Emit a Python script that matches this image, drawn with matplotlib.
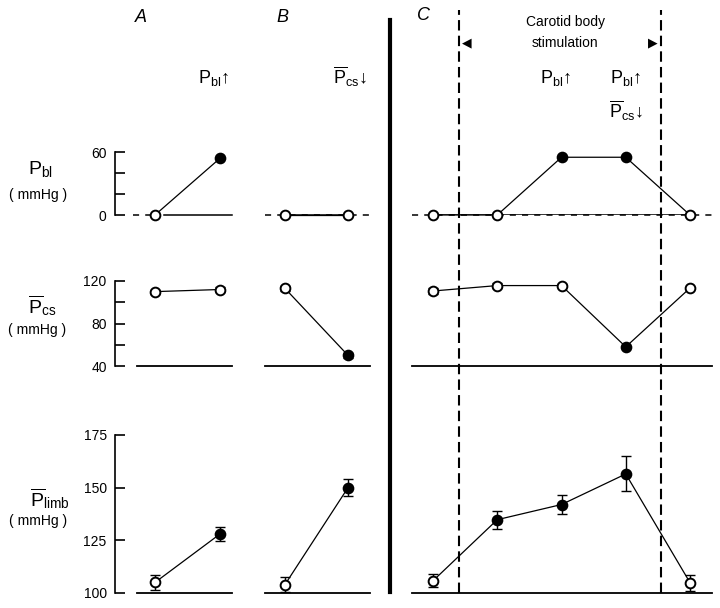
import matplotlib
matplotlib.use("Agg")
import matplotlib.pyplot as plt
from matplotlib.lines import Line2D

plt.rcParams['font.family'] = ['Liberation Sans', 'DejaVu Sans']
plt.rcParams['mathtext.fontset'] = 'custom'
plt.rcParams['mathtext.rm'] = 'Liberation Sans'
plt.rcParams['mathtext.it'] = 'Liberation Sans:italic'
plt.rcParams['mathtext.bf'] = 'Liberation Sans:bold'

# ---------------- data ----------------
# Panel A: Pbl raised
A_pbl = [0, 54]
A_pbl_filled = [False, True]
A_pcs = [110, 112]
A_pcs_err = [2, 2]
A_pcs_filled = [False, False]
A_limb = [105, 128]
A_limb_err = [3.4, 3.4]
A_limb_filled = [False, True]

# Panel B: Pcs lowered
B_pbl = [0, 0]
B_pbl_filled = [False, False]
B_pcs = [113, 50]
B_pcs_err = [2, 2]
B_pcs_filled = [False, True]
B_limb = [104, 150]
B_limb_err = [3.5, 4]
B_limb_filled = [False, True]

# Panel C: carotid body stimulation
C_pbl = [0, 0, 55, 55, 0]
C_pbl_filled = [False, False, True, True, False]
C_pcs = [110.6, 115.7, 115.7, 58, 113.4]
C_pcs_err = [2.5, 2, 1.5, 1, 1]
C_pcs_filled = [False, False, False, True, False]
C_limb = [105.8, 134.8, 142, 156.5, 104.9]
C_limb_err = [3, 4.3, 4.7, 8.3, 3.8]
C_limb_filled = [False, True, True, True, False]

stim_start, stim_end = 0.4, 3.55

ticks_pbl = [0, 20, 40, 60]
ticklabels_pbl = ['0', '', '', '60']
ticks_pcs = [40, 60, 80, 100, 120]
ticklabels_pcs = ['40', '', '80', '', '120']
ticks_limb = [100, 125, 150, 175]
ticklabels_limb = ['100', '125', '150', '175']

# ---------------- layout ----------------
W, H = 720, 608
fig = plt.figure(figsize=(W / 100, H / 100), dpi=100)
fig.patch.set_facecolor('white')


def px_axes(x0, x1, y_top, y_bot):
    return fig.add_axes([x0 / W, 1 - y_bot / H, (x1 - x0) / W, (y_bot - y_top) / H])


def fx(x):
    return x / W


def fy(y):
    return 1 - y / H


rows = {
    'pbl': (152, 215, (0, 60)),
    'pcs': (281, 366, (40, 120)),
    'limb': (435, 593, (100, 175)),
}
panels = {
    'A': (115, 232, (-0.615, 1.185)),
    'B': (265, 370, (-0.317, 1.349)),
    'C': (412, 712, (-0.327, 4.342)),
}

data = {
    ('A', 'pbl'): (A_pbl, None, A_pbl_filled),
    ('A', 'pcs'): (A_pcs, A_pcs_err, A_pcs_filled),
    ('A', 'limb'): (A_limb, A_limb_err, A_limb_filled),
    ('B', 'pbl'): (B_pbl, None, B_pbl_filled),
    ('B', 'pcs'): (B_pcs, B_pcs_err, B_pcs_filled),
    ('B', 'limb'): (B_limb, B_limb_err, B_limb_filled),
    ('C', 'pbl'): (C_pbl, None, C_pbl_filled),
    ('C', 'pcs'): (C_pcs, C_pcs_err, C_pcs_filled),
    ('C', 'limb'): (C_limb, C_limb_err, C_limb_filled),
}
ticks = {
    'pbl': (ticks_pbl, ticklabels_pbl),
    'pcs': (ticks_pcs, ticklabels_pcs),
    'limb': (ticks_limb, ticklabels_limb),
}

for (pname, rname), (vals, errs, filled) in data.items():
    x0, x1, xlim = panels[pname]
    yt, yb, ylim = rows[rname]
    ax = px_axes(x0, x1, yt, yb)
    ax.set_xlim(*xlim)
    ax.set_ylim(*ylim)
    ax.patch.set_alpha(0)
    for s in ['top', 'right', 'bottom']:
        ax.spines[s].set_visible(False)
    ax.set_xticks([])
    if pname == 'A':
        ax.spines['left'].set_linewidth(1.2)
        tk, tl = ticks[rname]
        ax.set_yticks(tk)
        ax.set_yticklabels(tl, fontsize=10)
        ax.tick_params(axis='y', direction='in', length=7, width=1.2, pad=6)
    else:
        ax.spines['left'].set_visible(False)
        ax.set_yticks([])

    xs = list(range(len(vals)))
    base = ylim[0]
    if rname == 'pbl':
        if pname == 'A':
            ax.axhline(base, xmin=0.15, xmax=0.33, color='k', lw=1.1,
                       ls=(0, (4, 4)), clip_on=False)
            ax.axhline(base, xmin=0.42, xmax=1.0, color='k', lw=1.1, clip_on=False)
        else:
            ax.axhline(base, color='k', lw=1.1, ls=(0, (4, 4)), clip_on=False)
            ax.hlines(base, xs[0], xs[-1], color='k', lw=1.1)
    else:
        xmin = 0.19 if pname == 'A' else 0.0
        ax.axhline(base, xmin=xmin, xmax=1, color='k', lw=1.3, clip_on=False)

    ax.plot(xs, vals, color='k', lw=0.9, zorder=3, clip_on=False)
    if errs is not None:
        ax.errorbar(xs, vals, yerr=errs, fmt='none', ecolor='k', elinewidth=1.0,
                    capsize=3.5, capthick=1.0, zorder=3, clip_on=False)
    for xi, v, f in zip(xs, vals, filled):
        ax.plot(xi, v, 'o', ms=7, mec='k', mew=1.4,
                mfc='k' if f else 'white', zorder=4, clip_on=False)

# overlay for C: stimulation boundaries
ov = px_axes(412, 712, 10, 593)
ov.set_xlim(*panels['C'][2])
ov.set_ylim(0, 1)
ov.axis('off')
ov.patch.set_alpha(0)
for xv in (stim_start, stim_end):
    ov.axvline(xv, color='k', lw=1.5, ls=(0, (5, 2.5)))

# thick separator
fig.add_artist(Line2D([fx(390), fx(390)], [fy(20), fy(592)], color='k', lw=3))

# panel letters
fig.text(fx(141), fy(18), 'A', fontsize=13, style='italic', ha='center', va='center')
fig.text(fx(282), fy(18), 'B', fontsize=13, style='italic', ha='center', va='center')
fig.text(fx(424), fy(15), 'C', fontsize=13, style='italic', ha='center', va='center')

# headers
up_bl = r'$\mathrm{P_{bl}}\!\uparrow$'
down_cs = r'$\overline{\mathrm{P}}_{\mathrm{cs}}\!\downarrow$'
fig.text(fx(214), fy(78), up_bl, fontsize=13, ha='center', va='center')
fig.text(fx(350), fy(77), down_cs, fontsize=13, ha='center', va='center')
fig.text(fx(556), fy(78), up_bl, fontsize=13, ha='center', va='center')
fig.text(fx(626), fy(78), up_bl, fontsize=13, ha='center', va='center')
fig.text(fx(626), fy(111), down_cs, fontsize=13, ha='center', va='center')

fig.text(fx(566), fy(22), 'Carotid body', fontsize=10, ha='center', va='center')
fig.text(fx(565), fy(43), 'stimulation', fontsize=10, ha='center', va='center')
fig.text(fx(467), fy(43), '\u25c0', fontsize=9, ha='center', va='center', family='DejaVu Sans')
fig.text(fx(653), fy(43), '\u25b6', fontsize=9, ha='center', va='center', family='DejaVu Sans')

# row labels
fig.text(fx(40), fy(169), r'$\mathrm{P_{bl}}$', fontsize=14, ha='center', va='center')
fig.text(fx(38), fy(195), '( mmHg )', fontsize=10, ha='center', va='center')
fig.text(fx(42), fy(306), r'$\overline{\mathrm{P}}_{\mathrm{cs}}$', fontsize=14, ha='center', va='center')
fig.text(fx(37), fy(330), '( mmHg )', fontsize=10, ha='center', va='center')
fig.text(fx(50), fy(499), r'$\overline{\mathrm{P}}_{\mathrm{limb}}$', fontsize=14, ha='center', va='center')
fig.text(fx(38), fy(521), '( mmHg )', fontsize=10, ha='center', va='center')

fig.savefig('out.png', dpi=100, facecolor='white')
